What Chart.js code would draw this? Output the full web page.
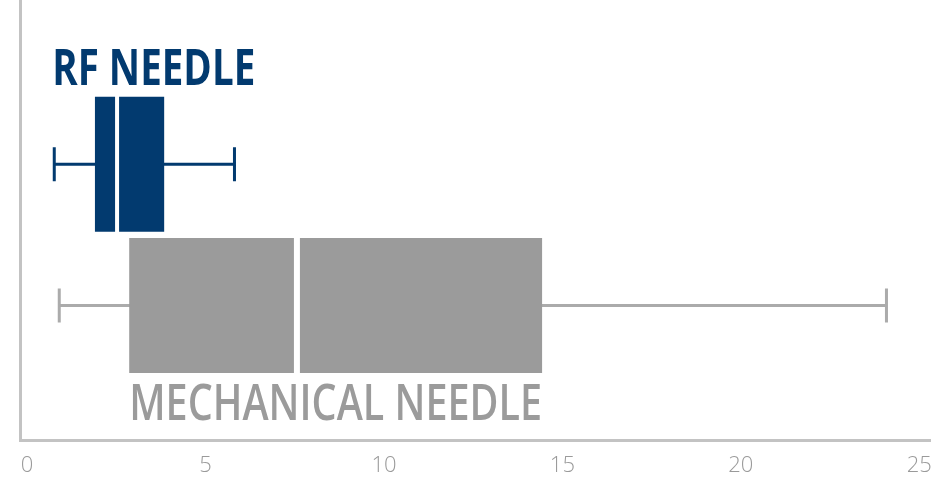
<!DOCTYPE html>
<html>
<head>
<meta charset="utf-8">
<script src="https://cdn.jsdelivr.net/npm/chart.js@4.4.0/dist/chart.umd.min.js"></script>
<style>
  html, body { margin: 0; padding: 0; background: #fff; }
  #wrap { width: 931px; height: 481px; }
</style>
</head>
<body>
<div id="wrap"><canvas id="myChart"></canvas></div>
<script>
// box plot stats
const groups = ['RF NEEDLE', 'MECHANICAL NEEDLE']
const mins = [0.76, 0.9]
const q1s = [1.9, 2.86]
const medians = [2.52, 7.56]
const q3s = [3.84, 14.43]
const maxs = [5.81, 24.08]
const xTicks = [0, 5, 10, 15, 20, 25]

const colors = ['#023a6f', '#9b9b9b']
const whiskerColors = ['#023a6f', '#ababab']
const rows = [27.57, 13.45]     // y position of each box on the hidden linear axis
const thickness = 135

// one pair of floating bars per group: q1->median and median->q3
// (grouped:false ignores barThickness, so size is capped with maxBarThickness)
const datasets = []
groups.forEach((g, i) => {
  ;[[q1s[i], medians[i]], [medians[i], q3s[i]]].forEach((range, k) => {
    datasets.push({
      label: g + (k ? ' high' : ' low'),
      data: [{ x: range, y: rows[i] }],
      backgroundColor: colors[i],
      grouped: false,
      barPercentage: 10,
      categoryPercentage: 1,
      maxBarThickness: thickness,
      borderWidth: 0
    })
  })
})

const boxPlugin = {
  id: 'boxExtras',
  beforeDatasetsDraw(chart) {
    const { ctx, scales: { x, y } } = chart
    ctx.save()
    groups.forEach((g, i) => {
      const wy = y.getPixelForValue(rows[i])
      ctx.strokeStyle = whiskerColors[i]
      ctx.lineWidth = 3
      ctx.beginPath()
      ctx.moveTo(x.getPixelForValue(mins[i]), wy)
      ctx.lineTo(x.getPixelForValue(maxs[i]), wy)
      ctx.moveTo(x.getPixelForValue(mins[i]), wy - 17)
      ctx.lineTo(x.getPixelForValue(mins[i]), wy + 17)
      ctx.moveTo(x.getPixelForValue(maxs[i]), wy - 17)
      ctx.lineTo(x.getPixelForValue(maxs[i]), wy + 17)
      ctx.stroke()
    })
    ctx.restore()
  },
  afterDatasetsDraw(chart) {
    const { ctx, scales: { x, y } } = chart
    ctx.save()
    // white median gap
    groups.forEach((g, i) => {
      const mx = x.getPixelForValue(medians[i])
      const cy = y.getPixelForValue(rows[i])
      ctx.strokeStyle = '#fff'
      ctx.lineWidth = i === 0 ? 4 : 6
      ctx.beginPath()
      ctx.moveTo(mx, cy - thickness / 2 - 1)
      ctx.lineTo(mx, cy + thickness / 2 + 1)
      ctx.stroke()
    })
    // group names, squeezed to look condensed
    const drawLabel = (text, left, width, baseline, color, weight) => {
      ctx.font = weight + ' 50px "Open Sans"'
      const w = ctx.measureText(text).width
      ctx.save()
      ctx.translate(left, baseline)
      ctx.scale(width / w, 1)
      ctx.fillStyle = color
      ctx.textBaseline = 'alphabetic'
      ctx.fillText(text, 0, 0)
      ctx.restore()
    }
    drawLabel(groups[0], x.getPixelForValue(mins[0]) - 2, 203,
      y.getPixelForValue(rows[0]) - thickness / 2 - 12, colors[0], 'bold')
    const l = x.getPixelForValue(q1s[1])
    drawLabel(groups[1], l, x.getPixelForValue(q3s[1]) - l,
      y.getPixelForValue(rows[1]) + thickness / 2 + 47, colors[1], '600')
    ctx.restore()
  }
}

new Chart(document.getElementById('myChart'), {
  type: 'bar',
  data: { datasets: datasets },
  options: {
    indexAxis: 'y',
    responsive: true,
    maintainAspectRatio: false,
    animation: false,
    layout: { padding: { left: 20, right: 1, top: 0, bottom: 0 } },
    plugins: { legend: { display: false }, tooltip: { enabled: false } },
    scales: {
      x: {
        type: 'linear',
        min: -0.2,
        max: 25.3,
        afterBuildTicks: (axis) => { axis.ticks = xTicks.map(v => ({ value: v })) },
        afterFit: (axis) => { axis.height = 41; axis.paddingLeft = 0; axis.paddingRight = 0 },
        grid: { display: false, drawTicks: false },
        border: { display: true, color: '#c3c3c3', width: 3 },
        ticks: {
          padding: 13,
          maxRotation: 0,
          color: '#9a9a9a',
          font: { family: 'Open Sans', size: 22, weight: '300' }
        }
      },
      y: {
        type: 'linear',
        min: 0,
        max: 44,
        offset: false,
        afterFit: (axis) => { axis.width = 0 },
        grid: { display: false, drawTicks: false, offset: false },
        border: { display: true, color: '#c3c3c3', width: 3 },
        ticks: { display: false }
      }
    }
  },
  plugins: [boxPlugin]
})
</script>
</body>
</html>
